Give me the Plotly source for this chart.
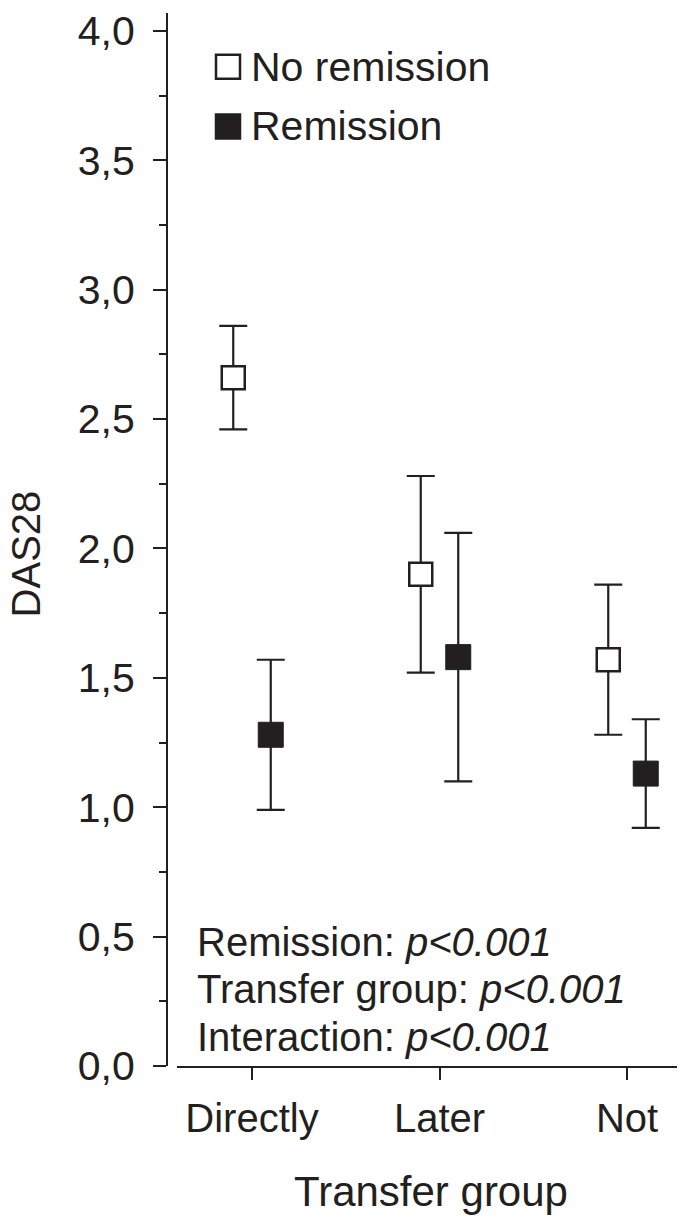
import plotly.graph_objects as go

groups = ["Directly", "Later", "Not"]
no_rem_mean = [2.66, 1.90, 1.57]
no_rem_err = [0.20, 0.38, 0.29]
rem_mean = [1.28, 1.58, 1.13]
rem_err = [0.29, 0.48, 0.21]
stats_lines = ["Remission: ", "Transfer group: ", "Interaction: "]
p_text = "p&lt;0.001"

ink = "#231f20"
font = "Liberation Sans, Arial, sans-serif"
# page has an 8px body margin, so the figure is a bit smaller than the window
body = 8
W, H = 685 - body, 1224 - body
ml, mb = 167 - body, 158
pw, ph = W - ml, H - mb
unit_y = 260.0   # px per DAS28 unit
unit_x = 187.5   # px per group step

pos = list(range(1, len(groups) + 1))
off = 0.1

fig = go.Figure()
fig.add_trace(go.Scatter(
    x=[p - off for p in pos], y=no_rem_mean, mode="markers", name="No remission",
    marker=dict(symbol="square", size=23, color="white", line=dict(color=ink, width=2.5)),
    error_y=dict(type="data", array=no_rem_err, color=ink, thickness=2.2, width=14),
    showlegend=False))
fig.add_trace(go.Scatter(
    x=[p + off for p in pos], y=rem_mean, mode="markers", name="Remission",
    marker=dict(symbol="square", size=25, color=ink, line=dict(color=ink, width=1)),
    error_y=dict(type="data", array=rem_err, color=ink, thickness=2.2, width=14),
    showlegend=False))

# page pixel -> paper fraction
def px(x):
    return (x - body - ml) / pw

def py(y):
    return (ph - (y - body)) / ph

# legend drawn by hand so the boxes match marker size
legend_items = [("No remission", "white", 62), ("Remission", ink, 122)]
for label, fill, yc in legend_items:
    fig.add_shape(type="rect", xref="paper", yref="paper",
                  x0=px(216), x1=px(240), y0=py(yc + 12), y1=py(yc - 12),
                  line=dict(color=ink, width=2.5), fillcolor=fill)
    fig.add_annotation(text=label, xref="paper", yref="paper", x=px(249), y=py(yc),
                       xanchor="left", yanchor="middle", showarrow=False,
                       font=dict(size=41, color=ink, family=font))

for i, line in enumerate(stats_lines):
    fig.add_annotation(text=line + "<i>" + p_text + "</i>", xref="paper", yref="paper",
                       x=px(195), y=py(941 + 48 * i), xanchor="left", yanchor="middle",
                       showarrow=False, font=dict(size=40, color=ink, family=font))

# y title placed by hand, the axis title sits too far from the labels
fig.add_annotation(text="DAS28", xref="paper", yref="paper", x=px(26), y=py(552),
                   xanchor="center", yanchor="middle", textangle=-90, showarrow=False,
                   font=dict(size=40, color=ink, family=font))

fig.update_xaxes(
    domain=[10 / pw, 1], range=[0.6, 0.6 + (pw - 10) / unit_x],
    tickvals=pos, ticktext=groups, ticks="outside", ticklen=12, tickwidth=2.2,
    tickcolor=ink, showline=True, linecolor=ink, linewidth=2.2, showgrid=False,
    zeroline=False, ticklabelstandoff=4,
    tickfont=dict(size=40, color=ink, family=font),
    title=dict(text="Transfer group", font=dict(size=42, color=ink, family=font), standoff=38))
fig.update_yaxes(
    range=[0, ph / unit_y], dtick=0.5, tick0=0, tickformat=".1f", anchor="free", position=0,
    ticks="outside", ticklen=13, tickwidth=2.2, tickcolor=ink,
    minor=dict(dtick=0.25, ticks="outside", ticklen=7, tickwidth=2.2, tickcolor=ink),
    showline=True, linecolor=ink, linewidth=2.2, showgrid=False, zeroline=False,
    ticklabelstandoff=10, ticklabeloverflow="allow",
    tickfont=dict(size=41, color=ink, family=font))

fig.update_layout(
    width=W, height=H, separators=",.",
    margin=dict(l=ml, r=0, t=0, b=mb, pad=0),
    paper_bgcolor="white", plot_bgcolor="white",
    font=dict(family=font, color=ink))

fig.write_html("out.html")
